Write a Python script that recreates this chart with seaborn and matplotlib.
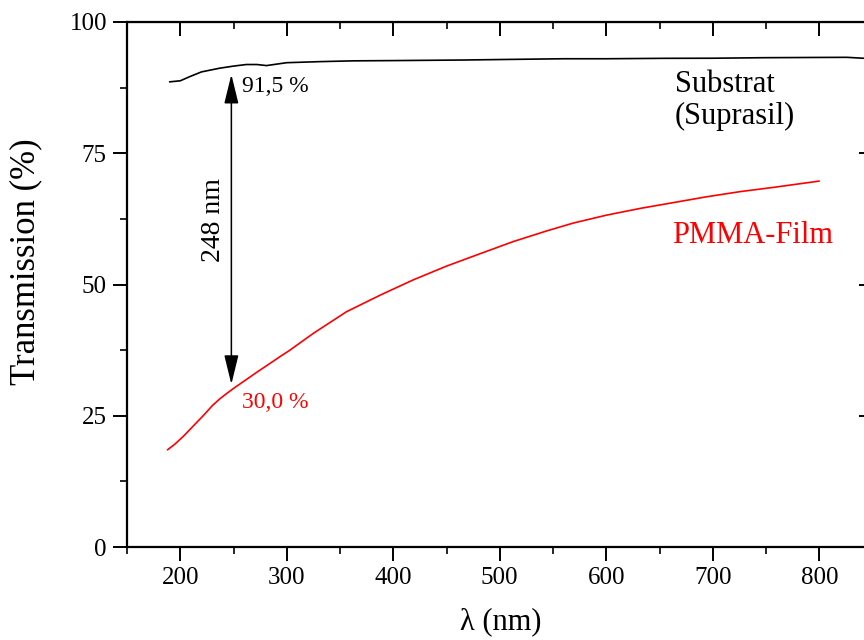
import matplotlib
matplotlib.use("Agg")
import matplotlib.pyplot as plt
from matplotlib.ticker import AutoMinorLocator
import seaborn as sns
import pandas as pd

# ---- data ----
substrat_wl = [190, 200, 209, 220, 237, 250, 262, 272, 281, 300, 331, 362, 400,
               466, 500, 560, 600, 654, 700, 748, 800, 826, 841, 850]
substrat_T = [88.6, 88.8, 89.6, 90.5, 91.2, 91.6, 91.9, 91.9, 91.7, 92.25, 92.45,
              92.6, 92.65, 92.76, 92.85, 93.0, 93.0, 93.08, 93.1, 93.2, 93.25,
              93.27, 93.1, 93.1]
pmma_wl = [188, 195, 203, 212, 222, 230, 237, 244, 250, 272, 294, 303, 325, 356, 388,
           419, 450, 482, 513, 544, 569, 600, 632, 663, 694, 726, 757, 800]
pmma_T = [18.5, 19.6, 21.1, 23.0, 25.1, 26.9, 28.2, 29.3, 30.2, 33.3, 36.3, 37.5, 40.7,
          44.8, 48.0, 50.9, 53.5, 55.9, 58.2, 60.2, 61.7, 63.2, 64.5, 65.6, 66.7,
          67.7, 68.5, 69.7]
x_ticks = [200, 300, 400, 500, 600, 700, 800]
y_ticks = [0, 25, 50, 75, 100]
arrow_wl = 248
arrow_T = (31.0, 90.0)

sns.set_style("ticks")
plt.rcParams['font.family'] = ['Liberation Serif', 'DejaVu Serif']
plt.rcParams['text.color'] = 'black'
plt.rcParams['axes.labelcolor'] = 'black'
plt.rcParams['xtick.color'] = 'black'
plt.rcParams['ytick.color'] = 'black'

fig = plt.figure(figsize=(8.64, 6.4), dpi=100)
ax = fig.add_axes([127/864, 1-547/640, (872.5-127)/864, (547-22)/640])

df_s = pd.DataFrame({"wl": substrat_wl, "T": substrat_T})
df_p = pd.DataFrame({"wl": pmma_wl, "T": pmma_T})
sns.lineplot(data=df_s, x="wl", y="T", ax=ax, color="black", lw=1.2, estimator=None, sort=False)
sns.lineplot(data=df_p, x="wl", y="T", ax=ax, color="red", lw=1.2, estimator=None, sort=False)

ax.set_xlim(150, 850)
ax.set_ylim(0, 100)
ax.set_xticks(x_ticks)
ax.set_yticks(y_ticks)
ax.xaxis.set_minor_locator(AutoMinorLocator(2))
ax.yaxis.set_minor_locator(AutoMinorLocator(2))
for s in ax.spines.values():
    s.set_visible(True)
    s.set_linewidth(1.6)
    s.set_color("black")
ax.tick_params(which="major", direction="out", length=10, width=1.4, labelsize=18,
               colors="black", pad=4.5)
ax.tick_params(which="minor", direction="out", length=5, width=1.2)

# inward ticks on top and right
top = ax.secondary_xaxis('top')
top.set_xticks(x_ticks)
top.xaxis.set_minor_locator(AutoMinorLocator(2))
top.tick_params(which="major", direction="in", length=10, width=1.4, labeltop=False)
top.tick_params(which="minor", direction="in", length=5, width=1.2)
right = ax.secondary_yaxis('right')
right.set_yticks(y_ticks)
right.yaxis.set_minor_locator(AutoMinorLocator(2))
right.tick_params(which="major", direction="in", length=10, width=1.4, labelright=False)
right.tick_params(which="minor", direction="in", length=5, width=1.2)

ax.set_xlabel("λ (nm)", fontsize=22)
ax.set_ylabel("Transmission (%)", fontsize=25)
ax.xaxis.set_label_coords(0.5017, -(622 - 547) / 525, transform=ax.transAxes)
ax.xaxis.label.set_va("center")
ax.yaxis.set_label_coords((26 - 127) / 745.5, (547 - 262) / 525, transform=ax.transAxes)
ax.yaxis.label.set_va("center")

ax.annotate("", xy=(arrow_wl, arrow_T[1]), xytext=(arrow_wl, arrow_T[0]),
            arrowprops=dict(arrowstyle="<|-|>,head_length=0.9,head_width=0.22",
                            color="black", lw=1.1, mutation_scale=20,
                            shrinkA=0, shrinkB=0))
ax.text(230.8, 62.3, "248 nm", rotation=90, ha="center", va="center", fontsize=20)
ax.text(258, 87.8, "91,5 %", ha="left", va="center", fontsize=17)
ax.text(258, 27.6, "30,0 %", ha="left", va="center", fontsize=17, color="red")
ax.text(664.5, 85, "Substrat\n(Suprasil)", ha="left", va="center", fontsize=22,
        linespacing=1.15)
ax.text(661.5, 59.4, "PMMA-Film", ha="left", va="center", fontsize=22, color="red")

fig.savefig("out.png", dpi=100)
